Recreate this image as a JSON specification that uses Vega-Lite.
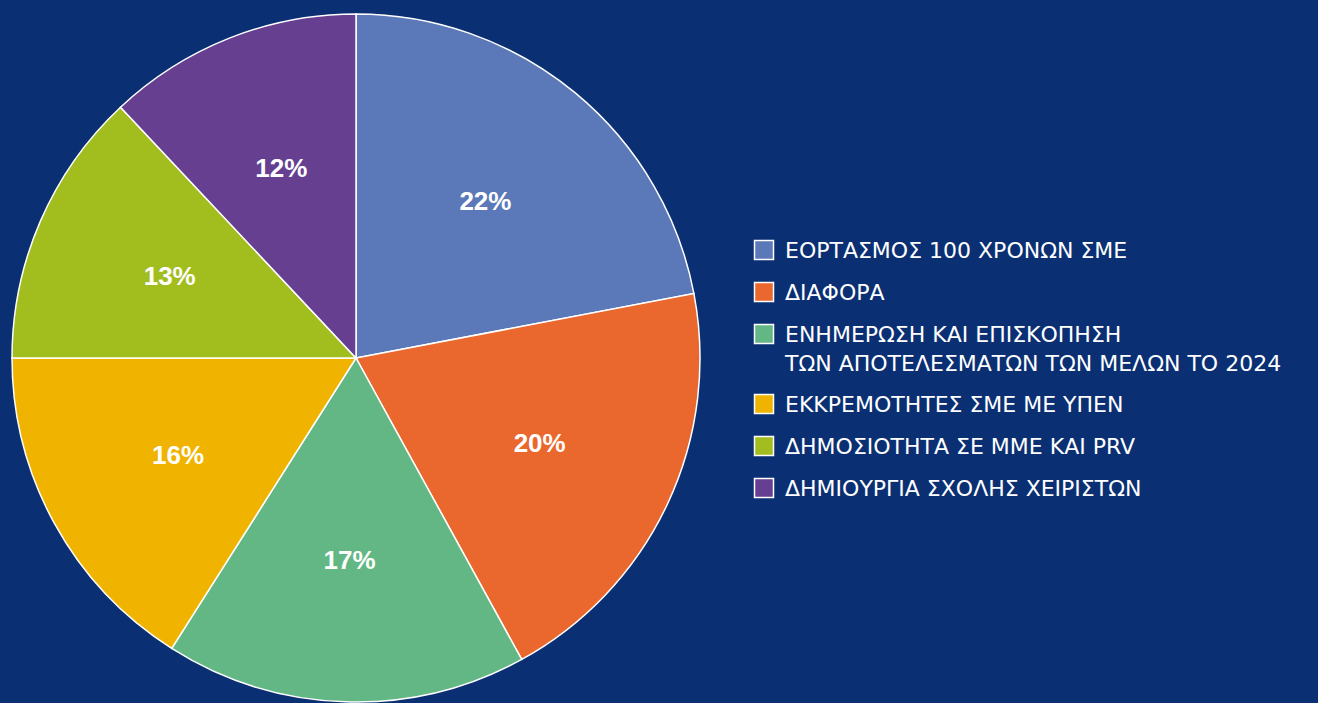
{
  "$schema": "https://vega.github.io/schema/vega-lite/v6.json",
  "width": 712,
  "height": 690,
  "autosize": "none",
  "padding": {"left": 0, "top": 13, "right": 606, "bottom": 0},
  "background": "#0a2f73",
  "view": {"stroke": null},
  "data": {
    "values": [
      {"idx": 1, "cat": "ΕΟΡΤΑΣΜΟΣ 100 ΧΡΟΝΩΝ ΣΜΕ", "share": 0.22},
      {"idx": 2, "cat": "ΔΙΑΦΟΡΑ", "share": 0.20},
      {"idx": 3, "cat": "ΕΝΗΜΕΡΩΣΗ ΚΑΙ ΕΠΙΣΚΟΠΗΣΗ\nΤΩΝ ΑΠΟΤΕΛΕΣΜΑΤΩΝ ΤΩΝ ΜΕΛΩΝ ΤΟ 2024", "share": 0.17},
      {"idx": 4, "cat": "ΕΚΚΡΕΜΟΤΗΤΕΣ ΣΜΕ ΜΕ ΥΠΕΝ", "share": 0.16},
      {"idx": 5, "cat": "ΔΗΜΟΣΙΟΤΗΤΑ ΣΕ ΜΜΕ ΚΑΙ PRV", "share": 0.13},
      {"idx": 6, "cat": "ΔΗΜΙΟΥΡΓΙΑ ΣΧΟΛΗΣ ΧΕΙΡΙΣΤΩΝ", "share": 0.12}
    ]
  },
  "encoding": {
    "theta": {"field": "share", "type": "quantitative", "stack": true},
    "order": {"field": "idx", "type": "quantitative"},
    "color": {
      "field": "cat",
      "type": "nominal",
      "sort": null,
      "scale": {"range": ["#5b78b8", "#ea672e", "#63b785", "#f0b400", "#a2bd1e", "#663f91"]},
      "legend": {
        "title": null,
        "orient": "none",
        "legendX": 753,
        "legendY": 226,
        "symbolType": "square",
        "symbolSize": 361,
        "symbolStrokeColor": "#ffffff",
        "symbolStrokeWidth": 1.5,
        "symbolOpacity": 1,
        "labelColor": "#ffffff",
        "labelFont": "DejaVu Sans",
        "labelFontSize": 22,
        "labelLimit": 600,
        "labelOffset": 10,
        "labelBaseline": "alphabetic",
        "labelExpr": "split(datum.label, '\\n')",
        "rowPadding": 16,
        "encode": {"labels": {"update": {"dy": {"value": 8}, "lineHeight": {"value": 29}}}}
      }
    }
  },
  "layer": [
    {
      "mark": {"type": "arc", "outerRadius": 344, "stroke": "#ffffff", "strokeWidth": 1.5}
    },
    {
      "mark": {"type": "text", "radius": 203, "font": "Liberation Sans", "fontWeight": "bold", "fontSize": 26, "fill": "#ffffff"},
      "encoding": {
        "text": {"field": "share", "type": "quantitative", "format": ".0%"},
        "color": {"value": "#ffffff"}
      }
    }
  ]
}
